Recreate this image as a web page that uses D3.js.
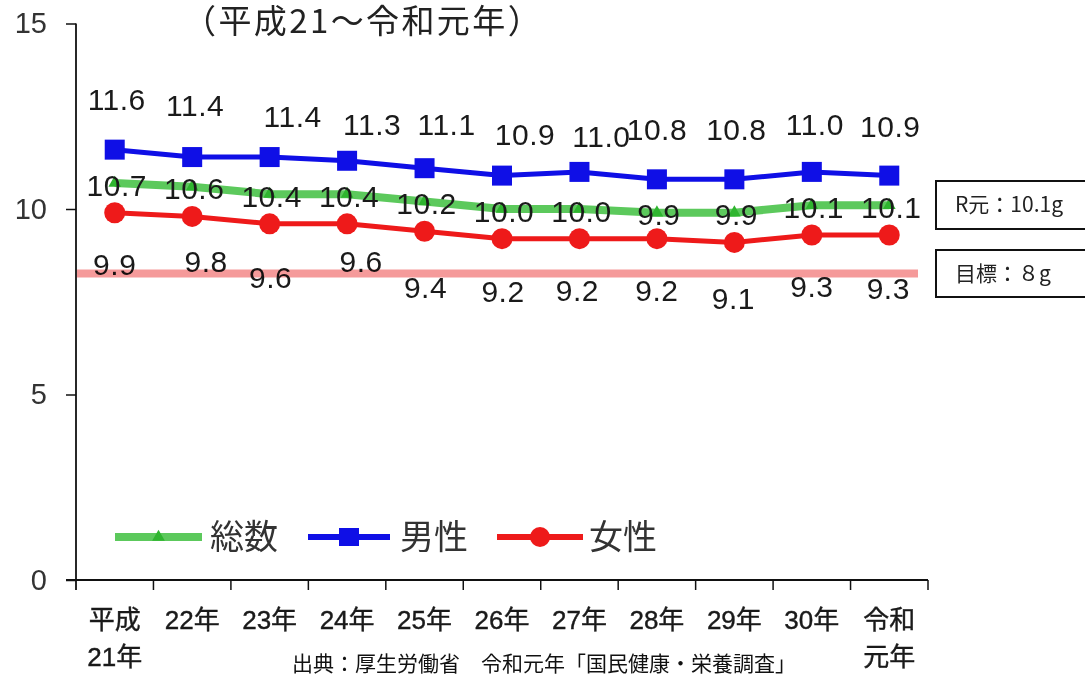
<!DOCTYPE html>
<html>
<head>
<meta charset="utf-8">
<script src="https://cdn.jsdelivr.net/npm/d3@7/dist/d3.min.js"></script>
<style>
  html, body { margin: 0; padding: 0; background: #ffffff; }
  svg { display: block; }
</style>
</head>
<body>
<svg id="chart" width="1085" height="677"></svg>
<script>
// ---------- data ----------
const categories = ["平成\n21年", "22年", "23年", "24年", "25年", "26年", "27年", "28年", "29年", "30年", "令和\n元年"];
const totalValues = [10.7, 10.6, 10.4, 10.4, 10.2, 10.0, 10.0, 9.9, 9.9, 10.1, 10.1];
const maleValues  = [11.6, 11.4, 11.4, 11.3, 11.1, 10.9, 11.0, 10.8, 10.8, 11.0, 10.9];
const femaleValues = [9.9, 9.8, 9.6, 9.6, 9.4, 9.2, 9.2, 9.2, 9.1, 9.3, 9.3];
const yTicks = [0, 5, 10, 15];
const seriesNames = ["総数", "男性", "女性"];
const targetLineValue = 8.26;   // pink target line as drawn
const titleText = "（平成21～令和元年）";
const sourceText = "出典：厚生労働省　令和元年「国民健康・栄養調査」";
const boxTexts = ["R元：10.1g", "目標：８g"];

// ---------- layout (label nudges, pixels) ----------
const maleLabelDx = [2, 3, 23, 25, 22, 23, 22, 0, 2, 3, 1];
const maleLabelDy = [-50, -52, -41, -36, -44, -41, -35, -50, -50, -47, -49];
const femaleLabelDx = [0, 14, 1, 14, 1, 1, -2, 0, -1, 0, -1];
const femaleLabelDy = [52, 45, 54, 38, 56, 53, 52, 52, 56, 52, 54];

const svg = d3.select("#chart");
const W = 1085, H = 677;
svg.append("rect").attr("width", W).attr("height", H).attr("fill", "#ffffff");

const x = d3.scaleBand().domain(categories).range([76, 928]).paddingInner(0).paddingOuter(0);
const y = d3.scaleLinear().domain([0, 15]).range([580, 23.5]);
const cx = (i) => x(categories[i]) + x.bandwidth() / 2;

const latin = "'Liberation Sans', Arial, 'Noto Sans CJK JP', sans-serif";
const cjk = "'Noto Sans CJK JP', 'Noto Sans', sans-serif";

// ---------- title ----------
svg.append("text").attr("x", 183).attr("y", 33)
  .attr("font-family", cjk).attr("font-size", 33).attr("letter-spacing", 2.4).attr("fill", "#222")
  .text(titleText);

// ---------- y axis ----------
const yAxis = d3.axisLeft(y).tickValues(yTicks).tickSize(10).tickPadding(19).tickSizeOuter(0);
const gy = svg.append("g").attr("transform", "translate(76,0)").call(yAxis);
gy.select(".domain").remove();
gy.selectAll(".tick line").attr("stroke", "#111").attr("stroke-width", 1.5);
gy.selectAll(".tick text").attr("font-family", latin).attr("font-size", 29).attr("fill", "#333");
svg.append("line").attr("x1", 76).attr("x2", 76).attr("y1", y(15)).attr("y2", 590)
  .attr("stroke", "#111").attr("stroke-width", 1.8);

// ---------- x axis ----------
svg.append("line").attr("x1", 66).attr("x2", 928).attr("y1", y(0)).attr("y2", y(0))
  .attr("stroke", "#111").attr("stroke-width", 1.8);
const boundaries = categories.map(c => x(c)).concat([x(categories[categories.length - 1]) + x.bandwidth()]);
svg.append("g").selectAll("line").data(boundaries.slice(1)).join("line")
  .attr("x1", d => d).attr("x2", d => d).attr("y1", y(0)).attr("y2", y(0) + 10)
  .attr("stroke", "#111").attr("stroke-width", 1.5);
const xl = svg.append("g").selectAll("text").data(categories).join("text")
  .attr("x", (d, i) => cx(i)).attr("y", 629)
  .attr("text-anchor", "middle")
  .attr("font-family", latin).attr("font-size", 26).attr("fill", "#1a1a1a")
  .attr("stroke", "#1a1a1a").attr("stroke-width", 0.4);
xl.each(function (d) {
  const lines = d.split("\n");
  const t = d3.select(this);
  lines.forEach((ln, k) => {
    t.append("tspan").attr("x", t.attr("x")).attr("dy", k === 0 ? 0 : 37).text(ln);
  });
});

// ---------- series ----------
const line = d3.line().x((d, i) => cx(i)).y(d => y(d));

svg.append("path").datum(totalValues).attr("d", line)
  .attr("fill", "none").attr("stroke", "#5cc95c").attr("stroke-width", 8).attr("stroke-linejoin", "round");
svg.append("g").selectAll("path").data(totalValues).join("path")
  .attr("d", d3.symbol(d3.symbolTriangle, 70))
  .attr("transform", (d, i) => `translate(${cx(i)},${y(d)})`)
  .attr("fill", "#2fb52f");

svg.append("path").datum(maleValues).attr("d", line)
  .attr("fill", "none").attr("stroke", "#0f0fe6").attr("stroke-width", 5).attr("stroke-linejoin", "round");
svg.append("g").selectAll("rect").data(maleValues).join("rect")
  .attr("x", (d, i) => cx(i) - 10).attr("y", d => y(d) - 10)
  .attr("width", 20).attr("height", 20).attr("fill", "#0f0fe6");

svg.append("path").datum(femaleValues).attr("d", line)
  .attr("fill", "none").attr("stroke", "#ee1a1a").attr("stroke-width", 5).attr("stroke-linejoin", "round");
svg.append("g").selectAll("circle").data(femaleValues).join("circle")
  .attr("cx", (d, i) => cx(i)).attr("cy", d => y(d)).attr("r", 10.5).attr("fill", "#ee1a1a");

// ---------- data labels ----------
const labelStyle = (sel) => sel.attr("text-anchor", "middle").attr("dominant-baseline", "central")
  .attr("font-family", latin).attr("font-size", 30).attr("letter-spacing", 0.5).attr("fill", "#1a1a1a");

svg.append("g").selectAll("text").data(maleValues).join("text")
  .attr("x", (d, i) => cx(i) + maleLabelDx[i]).attr("y", (d, i) => y(d) + maleLabelDy[i])
  .call(labelStyle).text(d => d.toFixed(1));
svg.append("g").selectAll("text").data(totalValues).join("text")
  .attr("x", (d, i) => cx(i) + 2).attr("y", d => y(d) + 2)
  .call(labelStyle).text(d => d.toFixed(1));
svg.append("g").selectAll("text").data(femaleValues).join("text")
  .attr("x", (d, i) => cx(i) + femaleLabelDx[i]).attr("y", (d, i) => y(d) + femaleLabelDy[i])
  .call(labelStyle).text(d => d.toFixed(1));

// ---------- target line (translucent, text shows through) ----------
svg.append("line").attr("x1", 77).attr("x2", 918)
  .attr("y1", y(targetLineValue)).attr("y2", y(targetLineValue))
  .attr("stroke", "#f59a9a").attr("stroke-width", 8)
  .style("mix-blend-mode", "multiply");

// ---------- legend ----------
const legendY = 537;
const legendItems = [
  { name: seriesNames[0], x1: 115, x2: 202, color: "#5cc95c", w: 8, marker: "tri", mcolor: "#2fb52f", tx: 210 },
  { name: seriesNames[1], x1: 308, x2: 390, color: "#0f0fe6", w: 6, marker: "sq", mcolor: "#0f0fe6", tx: 400 },
  { name: seriesNames[2], x1: 497, x2: 583, color: "#ee1a1a", w: 6, marker: "ci", mcolor: "#ee1a1a", tx: 589 }
];
const lg = svg.append("g");
legendItems.forEach(it => {
  lg.append("line").attr("x1", it.x1).attr("x2", it.x2).attr("y1", legendY).attr("y2", legendY)
    .attr("stroke", it.color).attr("stroke-width", it.w);
  const mx = (it.x1 + it.x2) / 2;
  if (it.marker === "tri") {
    lg.append("path").attr("d", d3.symbol(d3.symbolTriangle, 70)).attr("transform", `translate(${mx},${legendY})`).attr("fill", it.mcolor);
  } else if (it.marker === "sq") {
    lg.append("rect").attr("x", mx - 10).attr("y", legendY - 9).attr("width", 20).attr("height", 18).attr("fill", it.mcolor);
  } else {
    lg.append("circle").attr("cx", mx).attr("cy", legendY).attr("r", 10).attr("fill", it.mcolor);
  }
  lg.append("text").attr("x", it.tx).attr("y", legendY + 12)
    .attr("font-family", cjk).attr("font-size", 34).attr("fill", "#333").text(it.name);
});

// ---------- annotation boxes ----------
const boxes = [{ y: 181, h: 48 }, { y: 250, h: 47 }];
boxes.forEach((b, i) => {
  svg.append("rect").attr("x", 936).attr("y", b.y).attr("width", 160).attr("height", b.h)
    .attr("fill", "#ffffff").attr("stroke", "#111").attr("stroke-width", 2);
  svg.append("text").attr("x", 955).attr("y", b.y + b.h / 2 + 7)
    .attr("font-family", cjk).attr("font-size", 21).attr("fill", "#222").text(boxTexts[i]);
});

// ---------- source ----------
svg.append("text").attr("x", 292).attr("y", 671)
  .attr("font-family", cjk).attr("font-size", 21).attr("fill", "#111").text(sourceText);
</script>
</body>
</html>
